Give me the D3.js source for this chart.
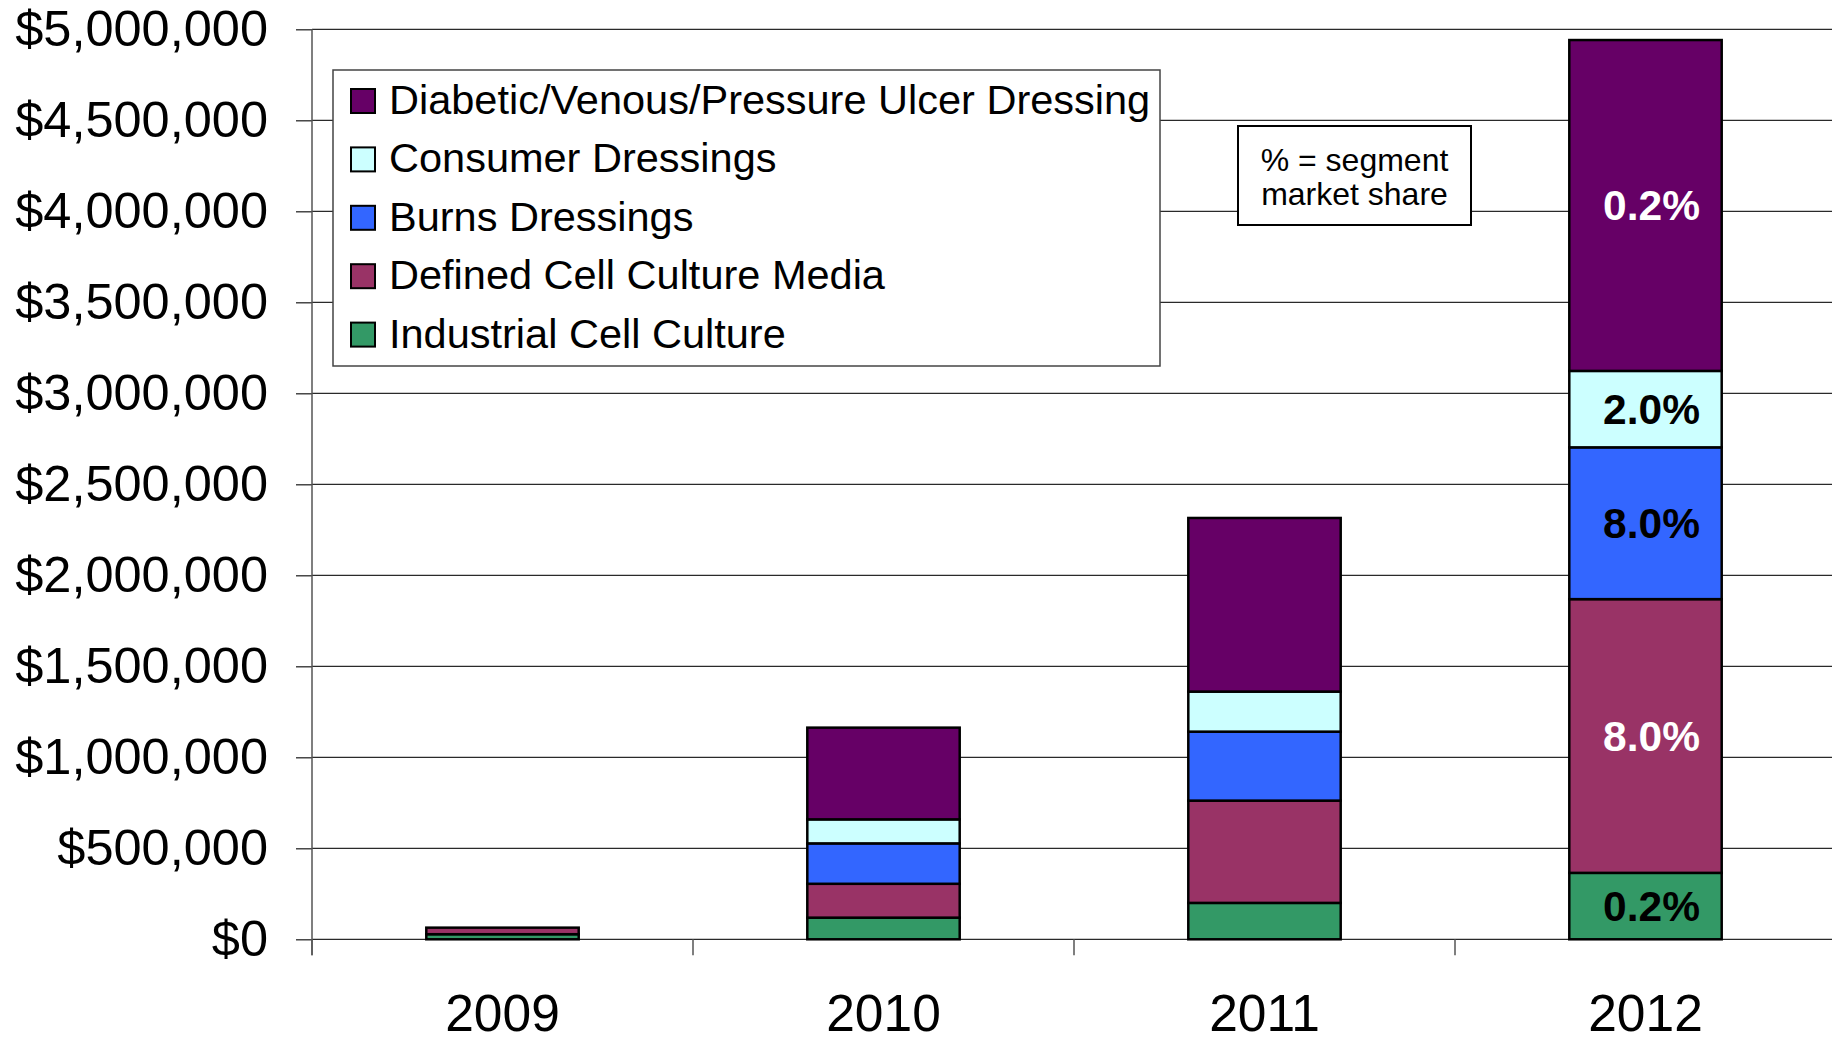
<!DOCTYPE html>
<html>
<head>
<meta charset="utf-8">
<script src="https://cdn.jsdelivr.net/npm/d3@7"></script>
<style>
  body { margin: 0; background: #fff; }
  svg { display: block; font-family: "Liberation Sans", Arial, sans-serif; }
</style>
</head>
<body>
<div id="chart"></div>
<script>
// values
const years = ["2009", "2010", "2011", "2012"];
const segments = ["Industrial Cell Culture", "Defined Cell Culture Media", "Burns Dressings",
    "Consumer Dressings", "Diabetic/Venous/Pressure Ulcer Dressing"];
const industrial = [28000, 119000, 200000, 365000];
const definedMedia = [36000, 186000, 562000, 1504000];
const burns = [0, 222000, 379000, 834000];
const consumer = [0, 132000, 220000, 420000];
const diabetic = [0, 504000, 954000, 1818000];
const share2012 = ["0.2%", "8.0%", "8.0%", "2.0%", "0.2%"]; // bottom to top
const yTicks = [0, 500000, 1000000, 1500000, 2000000, 2500000, 3000000, 3500000, 4000000, 4500000, 5000000];
const noteLines = ["% = segment", "market share"];

const colors = ["#339966", "#993366", "#3366ff", "#ccffff", "#660066"];
const labelColors = ["#000", "#fff", "#000", "#000", "#fff"];

const W = 1832, H = 1037;
const margin = { top: 29.3, left: 312, bottom: 97.7 };

const svg = d3.select("#chart").append("svg")
    .attr("width", W)
    .attr("height", H);

const x = d3.scaleBand()
    .domain(years)
    .range([margin.left, margin.left + 4 * 381])
    .paddingInner(0.6)
    .paddingOuter(0.3);

const y = d3.scaleLinear()
    .domain([0, 5000000])
    .range([H - margin.bottom, margin.top]);

// rows for stacking
const rows = years.map((yr, i) => ({
    year: yr,
    [segments[0]]: industrial[i],
    [segments[1]]: definedMedia[i],
    [segments[2]]: burns[i],
    [segments[3]]: consumer[i],
    [segments[4]]: diabetic[i]
}));
const stacked = d3.stack().keys(segments)(rows);

// gridlines
svg.append("g")
    .selectAll("line")
    .data(yTicks.slice(1))
    .join("line")
    .attr("x1", margin.left)
    .attr("x2", W)
    .attr("y1", d => y(d))
    .attr("y2", d => y(d))
    .attr("stroke", "#2a2a2a")
    .attr("stroke-width", 1.3);

// y axis
const yAxis = svg.append("g")
    .attr("transform", `translate(${margin.left},0)`)
    .call(d3.axisLeft(y).tickValues(yTicks).tickSize(16).tickPadding(28)
        .tickFormat(d3.format("$,.0f")));
yAxis.select(".domain").remove();
yAxis.selectAll(".tick line").attr("stroke", "#2a2a2a").attr("stroke-width", 1.3);
yAxis.selectAll(".tick text")
    .attr("font-size", 50.5)
    .attr("font-family", "'Liberation Sans', Arial, sans-serif")
    .attr("fill", "#000");

// x axis baseline, ticks at band boundaries
const xAxisG = svg.append("g");
xAxisG.append("line")
    .attr("x1", margin.left).attr("x2", W)
    .attr("y1", y(0)).attr("y2", y(0))
    .attr("stroke", "#2a2a2a").attr("stroke-width", 1.3);
xAxisG.selectAll(".xtick")
    .data(years)
    .join("line")
    .attr("class", "xtick")
    .attr("x1", d => x(d) - x.bandwidth() * 0.75)
    .attr("x2", d => x(d) - x.bandwidth() * 0.75)
    .attr("y1", y(0))
    .attr("y2", y(0) + 16)
    .attr("stroke", "#555")
    .attr("stroke-width", 1.5);
xAxisG.selectAll(".xlabel")
    .data(years)
    .join("text")
    .attr("class", "xlabel")
    .attr("x", d => x(d) + x.bandwidth() / 2)
    .attr("y", y(0) + 92)
    .attr("text-anchor", "middle")
    .attr("font-size", 51.5)
    .text(d => d);

// y axis line
svg.append("line")
    .attr("x1", margin.left).attr("x2", margin.left)
    .attr("y1", y(5000000)).attr("y2", y(0) + 16)
    .attr("stroke", "#555").attr("stroke-width", 1.5);

// bars
svg.append("g")
    .selectAll("g")
    .data(stacked)
    .join("g")
    .attr("fill", (d, i) => colors[i])
    .selectAll("rect")
    .data(d => d.filter(s => s[1] > s[0]))
    .join("rect")
    .attr("x", d => x(d.data.year))
    .attr("width", x.bandwidth())
    .attr("y", d => y(d[1]))
    .attr("height", d => y(d[0]) - y(d[1]))
    .attr("stroke", "#000")
    .attr("stroke-width", 2.5);

// 2012 share labels
svg.append("g")
    .selectAll("text")
    .data(stacked)
    .join("text")
    .attr("x", x("2012") + x.bandwidth() / 2 + 6)
    .attr("y", d => y((d[3][0] + d[3][1]) / 2))
    .attr("dy", "0.35em")
    .attr("text-anchor", "middle")
    .attr("font-size", 42.5)
    .attr("font-weight", "bold")
    .attr("fill", (d, i) => labelColors[i])
    .text((d, i) => share2012[i]);

// legend
const legend = svg.append("g").attr("transform", "translate(333,70)");
legend.append("rect")
    .attr("width", 827).attr("height", 296)
    .attr("fill", "#fff")
    .attr("stroke", "#444").attr("stroke-width", 1.5);
const legendOrder = segments.map((s, i) => i).reverse();
const item = legend.selectAll(".item")
    .data(legendOrder)
    .join("g")
    .attr("class", "item")
    .attr("transform", (d, j) => `translate(0,${31 + j * 58.4})`);
item.append("rect")
    .attr("x", 18).attr("y", -12)
    .attr("width", 24).attr("height", 24)
    .attr("fill", d => colors[d])
    .attr("stroke", "#000").attr("stroke-width", 2);
item.append("text")
    .attr("x", 56)
    .attr("y", 13)
    .attr("font-size", 41.5)
    .text(d => segments[d]);

// note box
const note = svg.append("g").attr("transform", "translate(1238,126)");
note.append("rect")
    .attr("width", 233).attr("height", 99)
    .attr("fill", "#fff")
    .attr("stroke", "#000").attr("stroke-width", 2);
note.selectAll("text")
    .data(noteLines)
    .join("text")
    .attr("x", 116.5)
    .attr("y", (d, i) => 45 + i * 34)
    .attr("text-anchor", "middle")
    .attr("font-size", 32)
    .text(d => d);
</script>
</body>
</html>
